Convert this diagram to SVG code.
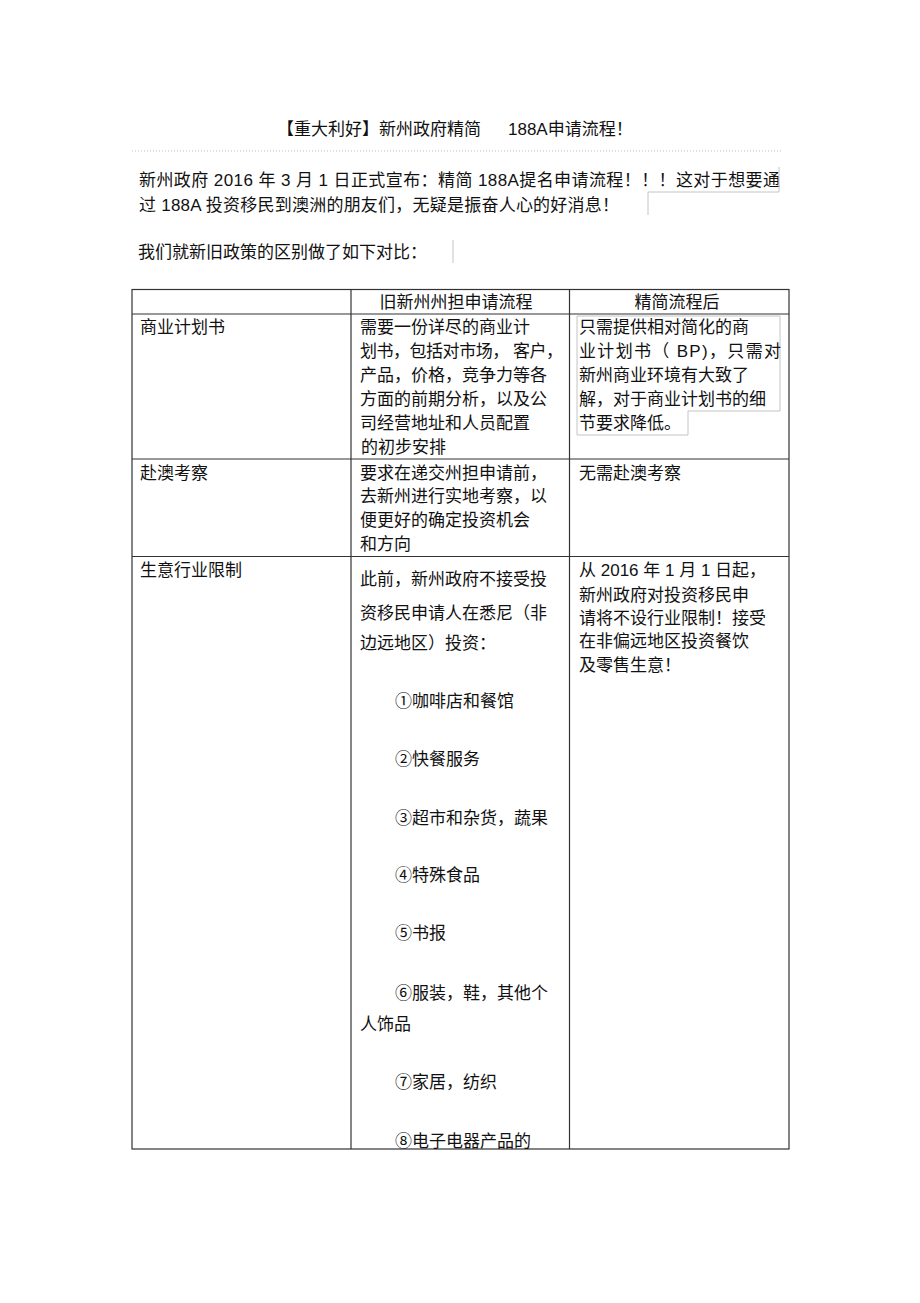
<svg xmlns="http://www.w3.org/2000/svg" width="920" height="1303" viewBox="0 0 920 1303">
<style>
  text { font-family: "Liberation Sans", "Noto Sans CJK SC", sans-serif; font-size: 17px; fill: #111; }
  .grid { stroke: #333; stroke-width: 1.2; fill: none; }
  .frame { stroke: #c4c4c4; stroke-width: 1; fill: none; }
  .dots { stroke: #bdbdbd; stroke-width: 1; stroke-dasharray: 1 2; }
</style>
<rect width="920" height="1303" fill="#fff"/>

<g id="title">
  <text x="277" y="134.5">【重大利好】新州政府精简</text>
  <text x="508" y="134.5">188A申请流程！</text>
  <line class="dots" x1="132" y1="151" x2="782" y2="151"/>
</g>

<g id="intro">
  <text x="139" y="185.5" textLength="641" lengthAdjust="spacing">新州政府 2016 年 3 月 1 日正式宣布：精简 188A提名申请流程！！！这对于想要通</text>
  <text x="139" y="211" textLength="480" lengthAdjust="spacing">过 188A 投资移民到澳洲的朋友们，无疑是振奋人心的好消息！</text>
  <text x="138" y="258">我们就新旧政策的区别做了如下对比：</text>
  <polyline class="frame" points="779,167 779,192 648,192 648,215"/>
  <line class="frame" x1="453" y1="240" x2="453" y2="263"/>
</g>

<g id="table-grid">
  <rect class="grid" x="132" y="289.5" width="657" height="859.5"/>
  <line class="grid" x1="351" y1="289.5" x2="351" y2="1149"/>
  <line class="grid" x1="569.5" y1="289.5" x2="569.5" y2="1149"/>
  <line class="grid" x1="132" y1="314" x2="789" y2="314"/>
  <line class="grid" x1="132" y1="459" x2="789" y2="459"/>
  <line class="grid" x1="132" y1="556.5" x2="789" y2="556.5"/>
  <polyline class="frame" points="577,316 577,435 688,435 688,411 780,411 780,316 577,316"/>
</g>

<g id="header">
  <text x="456" y="307.5" text-anchor="middle">旧新州州担申请流程</text>
  <text x="677" y="307.5" text-anchor="middle">精简流程后</text>
</g>

<g id="row-business-plan">
  <text x="140" y="333">商业计划书</text>
  <text x="360" y="333">需要一份详尽的商业计</text>
  <text x="360" y="357" textLength="203" lengthAdjust="spacing">划书，包括对市场， 客户，</text>
  <text x="360" y="380.5">产品，价格，竞争力等各</text>
  <text x="360" y="404.5">方面的前期分析，以及公</text>
  <text x="360" y="428.5">司经营地址和人员配置</text>
  <text x="361" y="453">的初步安排</text>
  <text x="579" y="333">只需提供相对简化的商</text>
  <text x="579" y="357" textLength="202" lengthAdjust="spacing">业计划书（ BP)，只需对</text>
  <text x="579" y="380.5">新州商业环境有大致了</text>
  <text x="579" y="404.5">解，对于商业计划书的细</text>
  <text x="579" y="428.5">节要求降低。</text>
</g>

<g id="row-visit">
  <text x="140" y="479">赴澳考察</text>
  <text x="360" y="479">要求在递交州担申请前，</text>
  <text x="360" y="502">去新州进行实地考察，以</text>
  <text x="360" y="525.5">便更好的确定投资机会</text>
  <text x="360" y="549.5">和方向</text>
  <text x="579" y="479">无需赴澳考察</text>
</g>

<g id="row-industry">
  <text x="140" y="575.5">生意行业限制</text>
  <text x="360" y="584.5">此前，新州政府不接受投</text>
  <text x="360" y="618.5">资移民申请人在悉尼（非</text>
  <text x="360" y="648.5">边远地区）投资：</text>
  <text x="395" y="706.5">①咖啡店和餐馆</text>
  <text x="395" y="764.5">②快餐服务</text>
  <text x="395" y="823.5">③超市和杂货，蔬果</text>
  <text x="395" y="880.5">④特殊食品</text>
  <text x="395" y="938.5">⑤书报</text>
  <text x="395" y="998.5">⑥服装，鞋，其他个</text>
  <text x="360" y="1029.5">人饰品</text>
  <text x="395" y="1087.5">⑦家居，纺织</text>
  <text x="395" y="1146.5">⑧电子电器产品的</text>
  <text x="579" y="575.5">从 2016 年 1 月 1 日起，</text>
  <text x="579" y="600.5">新州政府对投资移民申</text>
  <text x="579" y="623.5">请将不设行业限制！接受</text>
  <text x="579" y="646.5">在非偏远地区投资餐饮</text>
  <text x="579" y="670.5">及零售生意！</text>
</g>
</svg>
